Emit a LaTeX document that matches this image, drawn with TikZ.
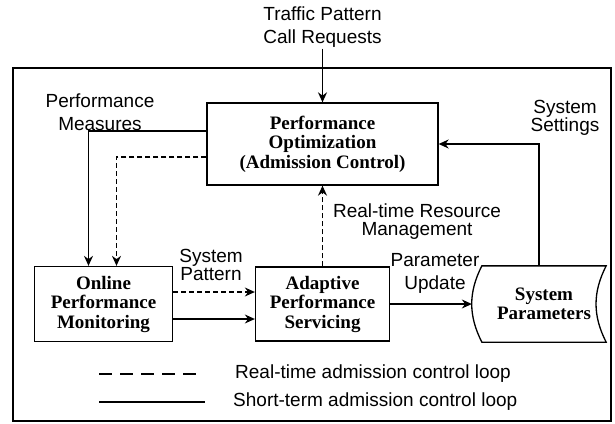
\documentclass[tikz,border=0pt]{standalone}
\usepackage{fontspec}
\setmainfont{Liberation Serif}
\setsansfont{Liberation Sans}
\usetikzlibrary{arrows.meta,positioning}

\tikzset{
  block/.style={draw, line width=1.3pt, align=center, inner sep=2pt,
    font=\rmfamily\bfseries\fontsize{19}{19.5}\selectfont},
  lbl/.style={align=center, inner sep=1pt, font=\sffamily\fontsize{19}{23}\selectfont},
  rt/.style={dash pattern=on 5pt off 3pt},
  flow/.style={-{Stealth[length=10pt,width=9pt]}, line width=1.3pt},
}

\begin{document}
\begin{tikzpicture}[x=1pt,y=1pt,node distance=2cm,on grid]
\useasboundingbox (0,0) rectangle (615,-423);
\draw[line width=1.3pt] (13,-68) rectangle (611,-421);

\node[block, minimum width=231pt, minimum height=82pt] (po) at (322.5,-144) {Performance\\Optimization\\(Admission Control)};
\node[block, minimum width=134pt, minimum height=74pt] (aps) [below=160pt of po] {Adaptive\\Performance\\Servicing};
\node[block, minimum width=138pt, minimum height=75pt] (opm) [left=219pt of aps] {Online\\Performance\\Monitoring};
\node[block, draw=none, minimum width=123pt, minimum height=75pt] (sp) [right=221.5pt of aps] {System\\Parameters};
\draw[line width=1.3pt] (sp.north west) to[bend right=27] (sp.south west) -- (sp.south east)
  to[bend left=27] (sp.north east) -- cycle;

% labels
\node[lbl] (traffic) [above=117pt of po] {Traffic Pattern\\Call Requests};
\node[lbl] (measures) at (100,-112) {Performance\\Measures};
\node[lbl] (settings) at (565,-118) {System\\[-5pt]Settings};
\node[lbl] (rtrm) at (417,-222) {Real-time Resource\\[-5pt]Management};
\node[lbl] (pattern) at (211,-265) {System\\[-5pt]Pattern};
\node[lbl] (update) at (435,-273) {Parameter\\Update};

% connections
\draw[flow] (traffic) -- (po);
\draw[flow] ([yshift=13pt]po.west) -| ([xshift=-15pt]opm.north);
\draw[flow, rt] ([yshift=-13pt]po.west) -| ([xshift=13pt]opm.north);
\draw[flow, rt] (aps) -- (po);
\draw[flow, rt] ([yshift=12pt]opm.east) -- ([yshift=12pt]aps.west);
\draw[flow] ([yshift=-15pt]opm.east) -- ([yshift=-15pt]aps.west);
\draw[flow] (aps) -- ([xshift=-10pt]sp.west);
\draw[flow] ([xshift=-5pt]sp.north) |- (po.east);

% legend
\coordinate (rt1) at (99,-374);
\coordinate (rt2) at (197,-374);
\coordinate (st1) at (99,-402);
\coordinate (st2) at (205,-402);
\draw[line width=1.3pt, dash pattern=on 13pt off 8pt] (rt1) -- (rt2);
\draw[line width=1.3pt] (st1) -- (st2);
\node[lbl, anchor=west] (rtlbl) at (234,-374) {Real-time admission control loop};
\node[lbl, anchor=west] (stlbl) at (232,-402) {Short-term admission control loop};
\end{tikzpicture}
\end{document}
